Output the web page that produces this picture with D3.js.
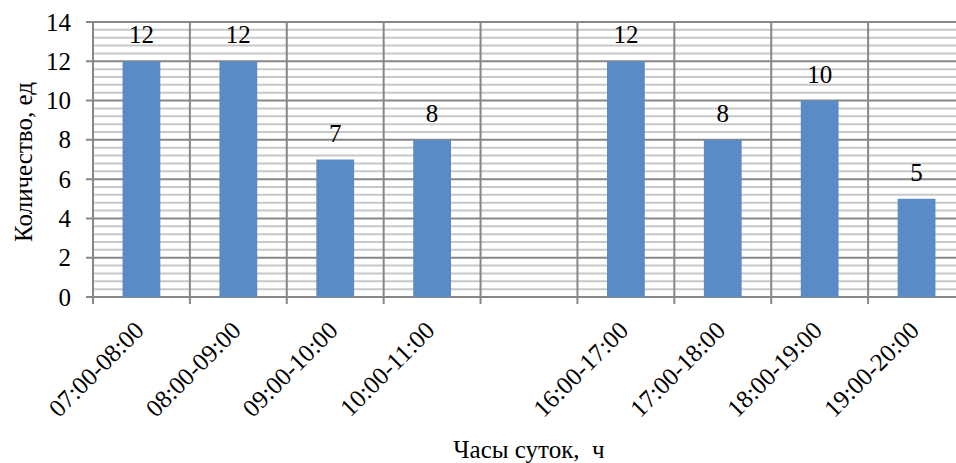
<!DOCTYPE html>
<html>
<head>
<meta charset="utf-8">
<script src="https://cdn.jsdelivr.net/npm/d3@7"></script>
<style>
    body { margin: 0; background: #fff; }
</style>
</head>
<body>
<svg id="canvas" width="956" height="463"></svg>
<script>
(function () {

    // Data.
    const CATEGORIES = ["07:00-08:00", "08:00-09:00", "09:00-10:00", "10:00-11:00", "",
        "16:00-17:00", "17:00-18:00", "18:00-19:00", "19:00-20:00"];
    const VALUES = [12, 12, 7, 8, null, 12, 8, 10, 5];
    const Y_TICKS = [0, 2, 4, 6, 8, 10, 12, 14];
    const Y_MINOR_STEP = 0.4;
    const Y_TITLE = "Количество, ед";
    const X_TITLE = "Часы суток,  ч";

    const FONT = "\"Liberation Serif\"";
    const BAR_COLOR = "#5b8bc6";
    const MAJOR_COLOR = "#878787";
    const MINOR_COLOR = "#c8c8c8";

    let plot = { left: 93, right: 965, top: 22, bottom: 297 };

    let svg = d3.select("#canvas");

    let xScale = d3.scaleBand().domain(CATEGORIES).range([plot.left, plot.right]);
    let yScale = d3.scaleLinear().domain([0, 14]).range([plot.bottom, plot.top]);
    let barWidth = xScale.bandwidth() * 0.39;

    // Minor horizontal grid.
    let minor = d3.range(0, 14 / Y_MINOR_STEP + 1).map(i => +(i * Y_MINOR_STEP).toFixed(2))
        .filter(v => Y_TICKS.indexOf(v) < 0);
    svg.append("g").selectAll("line").data(minor).join("line")
        .attr("x1", plot.left).attr("x2", plot.right)
        .attr("y1", d => yScale(d)).attr("y2", d => yScale(d))
        .attr("stroke", MINOR_COLOR).attr("stroke-width", 2);

    // Major horizontal grid, with the tick stubs on the left.
    svg.append("g").selectAll("line").data(Y_TICKS).join("line")
        .attr("x1", plot.left - 7).attr("x2", plot.right)
        .attr("y1", d => yScale(d)).attr("y2", d => yScale(d))
        .attr("stroke", MAJOR_COLOR).attr("stroke-width", 2);

    // Vertical grid at category boundaries, with stubs below the axis.
    let bounds = CATEGORIES.map(c => xScale(c)).concat([plot.right]);
    svg.append("g").selectAll("line").data(bounds).join("line")
        .attr("x1", d => d).attr("x2", d => d)
        .attr("y1", plot.top).attr("y2", plot.bottom + 7)
        .attr("stroke", MAJOR_COLOR).attr("stroke-width", 2);

    // Bars.
    let data = CATEGORIES.map((c, i) => ({ c: c, v: VALUES[i] })).filter(d => d.v != null);
    svg.append("g").selectAll("rect").data(data).join("rect")
        .attr("x", d => xScale(d.c) + (xScale.bandwidth() - barWidth) / 2)
        .attr("width", barWidth)
        .attr("y", d => yScale(d.v))
        .attr("height", d => yScale(0) - yScale(d.v))
        .attr("fill", BAR_COLOR);

    // Value labels.
    svg.append("g").selectAll("text").data(data).join("text")
        .attr("x", d => xScale(d.c) + xScale.bandwidth() / 2)
        .attr("y", d => yScale(d.v) - 18)
        .attr("text-anchor", "middle")
        .style("font-family", FONT)
        .style("font-size", "25px")
        .text(d => d.v);

    // Y axis labels.
    let yAxis = d3.axisLeft(yScale).tickValues(Y_TICKS).tickSize(0).tickPadding(22);
    let yg = svg.append("g").attr("transform", `translate(${plot.left}, 0)`).call(yAxis);
    yg.select(".domain").remove();
    yg.selectAll("text")
        .attr("fill", "#000")
        .style("font-family", FONT)
        .style("font-size", "25px");

    // X axis labels, rotated.
    svg.append("g").selectAll("text").data(CATEGORIES.filter(c => c !== "")).join("text")
        .attr("transform", c => `translate(${xScale(c) + xScale.bandwidth() / 2 + 4}, ${plot.bottom + 35}) rotate(-45)`)
        .attr("text-anchor", "end")
        .style("font-family", FONT)
        .style("font-size", "25px")
        .text(c => c);

    // Axis titles.
    svg.append("text")
        .attr("transform", "translate(32, 162) rotate(-90)")
        .attr("text-anchor", "middle")
        .style("font-family", FONT)
        .style("font-size", "25px")
        .text(Y_TITLE);
    svg.append("text")
        .attr("x", (plot.left + plot.right) / 2)
        .attr("y", 458)
        .attr("text-anchor", "middle")
        .style("font-family", FONT)
        .style("font-size", "25px")
        .style("white-space", "pre")
        .text(X_TITLE);

})();
</script>
</body>
</html>
